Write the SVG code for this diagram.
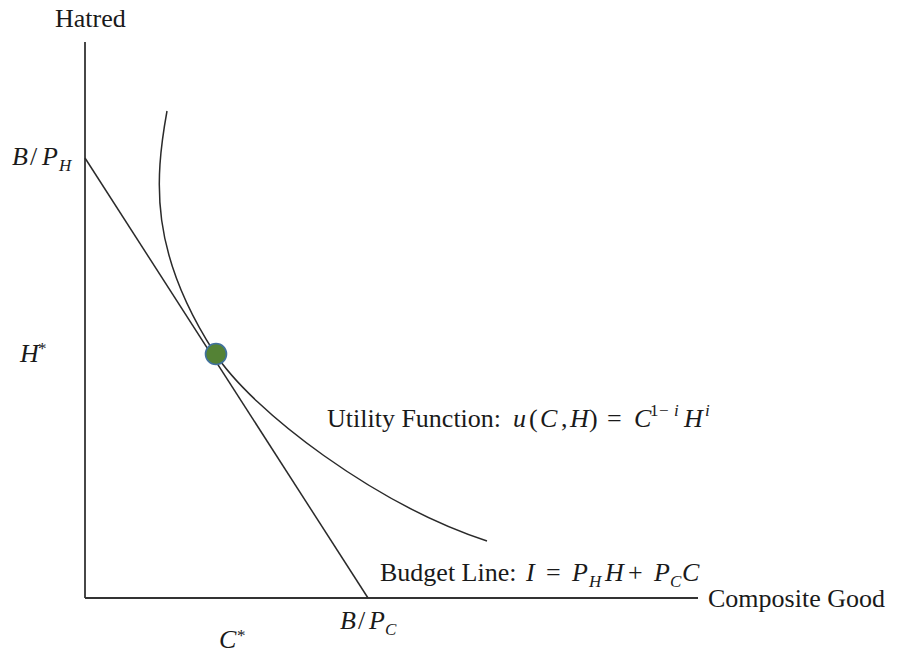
<svg xmlns="http://www.w3.org/2000/svg" width="897" height="655" viewBox="0 0 897 655">
<style>
.txt{font-family:"Liberation Serif","Times New Roman",serif;font-size:26px;fill:#1a1a1a}
.m{font-family:"Liberation Serif","Times New Roman",serif;font-style:italic;font-size:26px;fill:#1a1a1a}
.mu{font-family:"Liberation Serif","Times New Roman",serif;font-style:normal;font-size:26px;fill:#1a1a1a}
.s{font-size:17px}
.ln{fill:none;stroke:#2a2a2a;stroke-width:1.5}
.ax{fill:none;stroke:#333;stroke-width:1.8}
</style>
<rect width="897" height="655" fill="#fff"/>
<g id="axes">
  <line class="ax" x1="85" y1="42" x2="85" y2="598"/>
  <line class="ax" x1="85" y1="598" x2="698" y2="598"/>
</g>
<g id="connectors">
  <path id="budget-line" class="ln" d="M85,158 L368,598"/>
  <path id="utility-curve" class="ln" d="M167,111 C154.4,181 149.7,252 214,352 C252.6,412 377,505 487,541"/>
</g>
<g id="optimum">
  <circle cx="216" cy="354" r="10.5" fill="#548235" stroke="#41719C" stroke-width="1.6"/>
</g>
<g id="labels">
  <text class="txt" x="55" y="27">Hatred</text>
  <text class="txt" x="708" y="607">Composite Good</text>
  <g id="label-BPH">
    <text class="m" x="12" y="165">B</text>
    <text class="mu" x="30" y="165">/</text>
    <text class="m" x="42" y="165">P</text>
    <text class="m s" x="59" y="171">H</text>
  </g>
  <g id="label-Hstar">
    <text class="m" x="20" y="362">H</text>
    <text class="mu s" x="38" y="354">*</text>
  </g>
  <g id="label-BPC">
    <text class="m" x="340" y="629">B</text>
    <text class="mu" x="358" y="629">/</text>
    <text class="m" x="369" y="629">P</text>
    <text class="m s" x="385" y="635">C</text>
  </g>
  <g id="label-Cstar">
    <text class="m" x="219" y="648">C</text>
    <text class="mu s" x="237" y="641">*</text>
  </g>
  <g id="label-utility">
    <text class="txt" x="327" y="427">Utility Function:</text>
    <text class="m" x="513" y="427">u</text>
    <text class="mu" x="529" y="427">(</text>
    <text class="m" x="540" y="427">C</text>
    <text class="mu" x="561" y="427">,</text>
    <text class="m" x="570" y="427">H</text>
    <text class="mu" x="589" y="427">)</text>
    <text class="mu" x="607" y="427">=</text>
    <text class="m" x="634" y="427">C</text>
    <text class="mu s" x="650" y="416">1</text>
    <text class="mu s" x="659" y="416">−</text>
    <text class="m s" x="674" y="416">i</text>
    <text class="m" x="684" y="427">H</text>
    <text class="m s" x="705" y="416">i</text>
  </g>
  <g id="label-budget">
    <text class="txt" x="380" y="581">Budget Line:</text>
    <text class="m" x="526" y="581">I</text>
    <text class="mu" x="546" y="581">=</text>
    <text class="m" x="572" y="581">P</text>
    <text class="m s" x="589" y="587">H</text>
    <text class="m" x="605" y="581">H</text>
    <text class="mu" x="628" y="581">+</text>
    <text class="m" x="654" y="581">P</text>
    <text class="m s" x="670" y="587">C</text>
    <text class="m" x="682" y="581">C</text>
  </g>
</g>
</svg>
